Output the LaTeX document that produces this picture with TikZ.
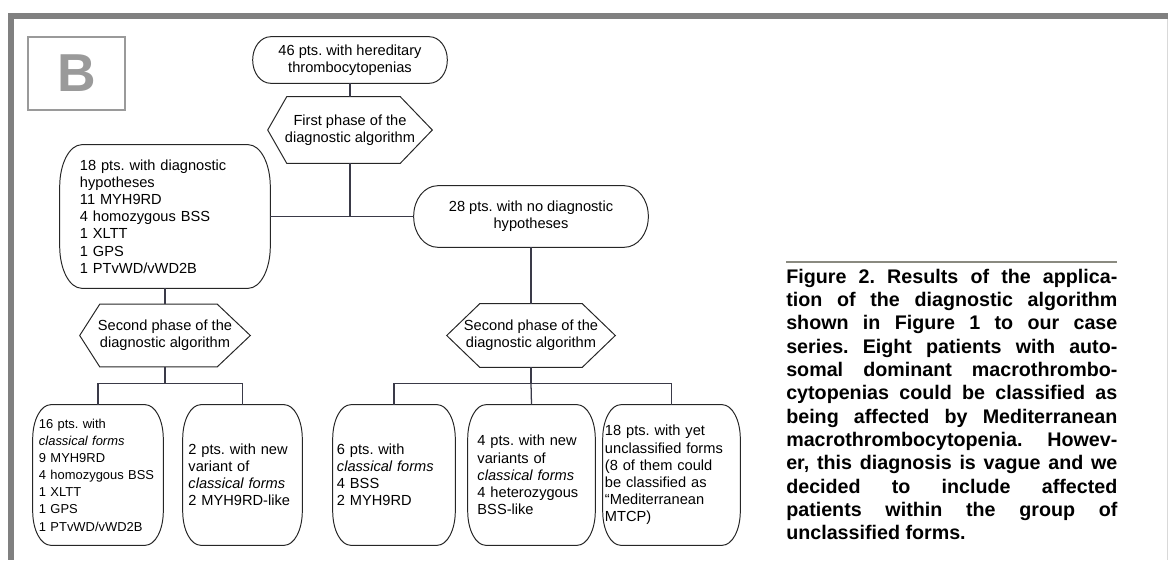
\documentclass[tikz,border=0pt]{standalone}
\usepackage{fontspec}
\setmainfont{Liberation Sans}
\usetikzlibrary{positioning, calc}
\frenchspacing

\definecolor{framegray}{HTML}{808080}
\definecolor{labelgray}{HTML}{9a9a9a}
\definecolor{linkcolor}{HTML}{3a3a48}
\definecolor{rulecolor}{HTML}{8a8a80}

% outline with elliptic corners round a named node: node, corner x, corner y
\newcommand{\roundline}[3]{%
  \draw[outline] ($(#1.north west)+(#2,0)$) -- ($(#1.north east)+(-#2,0)$)
    .. controls ($(#1.north east)+(-0.448*#2,0)$) and ($(#1.north east)+(0,-0.448*#3)$)
    .. ($(#1.north east)+(0,-#3)$)
    -- ($(#1.south east)+(0,#3)$)
    .. controls ($(#1.south east)+(0,0.448*#3)$) and ($(#1.south east)+(-0.448*#2,0)$)
    .. ($(#1.south east)+(-#2,0)$)
    -- ($(#1.south west)+(#2,0)$)
    .. controls ($(#1.south west)+(0.448*#2,0)$) and ($(#1.south west)+(0,0.448*#3)$)
    .. ($(#1.south west)+(0,#3)$)
    -- ($(#1.north west)+(0,-#3)$)
    .. controls ($(#1.north west)+(0,-0.448*#3)$) and ($(#1.north west)+(0.448*#2,0)$)
    .. cycle;}

% hexagon round a named node: node, left tip depth, right tip depth
\newcommand{\hexline}[3]{%
  \draw[outline] ($(#1.north west)+(#2,0)$) -- ($(#1.north east)+(-#3,0)$)
    -- (#1.east) -- ($(#1.south east)+(-#3,0)$)
    -- ($(#1.south west)+(#2,0)$) -- (#1.west) -- cycle;}

\begin{document}
\begin{tikzpicture}[
    x=0.025cm, y=-0.025cm,
    outline/.style={draw=black!85, line width=0.7pt},
    link/.style={draw=linkcolor, line width=0.9pt},
    stage/.style={
        rectangle, inner sep=0pt, align=center,
        font=\fontsize{10.4}{12.2}\selectfont,
    },
    result/.style={stage, align=left, minimum height=3.5cm},
    tagbox/.style={
        rectangle, draw=labelgray, line width=0.9pt,
        minimum width=2.425cm, minimum height=1.825cm,
        font=\fontsize{38}{40}\selectfont\bfseries, text=labelgray,
    },
    caption/.style={
        inner sep=0pt, text width=8.275cm, align=justify, anchor=north west,
        font=\fontsize{14}{16.6}\selectfont\bfseries,
    },
]
\useasboundingbox (0,0) rectangle (1168,560);

% ── Frame ──────────────────────────────────────────────────────────────────
\fill[framegray] (8,13) rectangle (1168,19);
\fill[framegray] (8,13) rectangle (14,560);
\draw[black!15, line width=0.7pt] (1167,19) -- (1167,560);

\node[tagbox] (tag) at (76.5,73.5) {B};

% ── First phase ────────────────────────────────────────────────────────────
\node[stage, minimum width=4.85cm, minimum height=1.15cm] (start) at (350,60)
    {46 pts. with hereditary\\thrombocytopenias};
\node[stage, minimum width=4.1cm, minimum height=1.65cm] (phase1) at (350,130)
    {First phase of the\\diagnostic algorithm};

\node[stage, align=left, text width=4.25cm, minimum width=5.25cm,
      minimum height=3.575cm] (known) at (165,216.5)
    {18 pts. with diagnostic\\hypotheses\\11 MYH9RD\\4 homozygous BSS\\1 XLTT\\1 GPS\\1 PTvWD/vWD2B};
\node[stage, minimum width=5.85cm, minimum height=1.525cm] (unknown) at (531,216.5)
    {28 pts. with no diagnostic\\hypotheses};

% ── Second phase ───────────────────────────────────────────────────────────
\node[stage, minimum width=4.25cm, minimum height=1.55cm] (phase2a) at (165,335.5)
    {Second phase of the\\diagnostic algorithm};
\node[stage, minimum width=4.2cm, minimum height=1.575cm] (phase2b) at (531,335.5)
    {Second phase of the\\diagnostic algorithm};

% ── Results ────────────────────────────────────────────────────────────────
\node[result, text width=2.95cm, minimum width=3.25cm,
      font=\fontsize{9.2}{12.2}\selectfont] (classA) at (98,475)
    {16 pts. with\\\textit{classical forms}\\9 MYH9RD\\4 homozygous BSS\\1 XLTT\\1 GPS\\1 PTvWD/vWD2B};
\node[result, text width=2.7cm, minimum width=2.975cm] (variantA) at (242.5,475)
    {2 pts. with new\\variant of\\\textit{classical forms}\\2 MYH9RD-like};
\node[result, text width=2.85cm, minimum width=3.05cm] (classB) at (394,475)
    {6 pts. with\\\textit{classical forms}\\4 BSS\\2 MYH9RD};
\node[result, text width=2.7cm, minimum width=3.175cm] (variantB) at (531.5,475)
    {4 pts. with new\\variants of\\\textit{classical forms}\\4 heterozygous\\BSS-like};
\node[result, text width=3.325cm, minimum width=3.425cm] (unclass) at (671.5,475)
    {18 pts. with yet\\unclassified forms\\(8 of them could\\be classified as\\``Mediterranean\\MTCP)};

% ── Outlines ───────────────────────────────────────────────────────────────
\roundline{start}{0.45cm}{0.575cm}
\hexline{phase1}{0.475cm}{0.8cm}
\roundline{known}{0.55cm}{1.05cm}
\roundline{unknown}{0.6cm}{0.76cm}
\hexline{phase2a}{0.5cm}{0.825cm}
\hexline{phase2b}{0.825cm}{0.825cm}
\roundline{classA}{0.45cm}{0.85cm}
\roundline{variantA}{0.45cm}{0.85cm}
\roundline{classB}{0.45cm}{0.85cm}
\roundline{variantB}{0.45cm}{0.85cm}
\roundline{unclass}{0.45cm}{0.85cm}

% ── Connectors ─────────────────────────────────────────────────────────────
\draw[link] (start.south) -- (phase1.north);
\draw[link] (known.east) -- (unknown.west);
\draw[link] (phase1.south) -- (phase1.south |- known.east);
\draw[link] (known.south) -- (phase2a.north);
\draw[link] (unknown.south) -- (phase2b.north);

\coordinate (splitA) at ($(phase2a.south)+(0,-0.425cm)$);
\coordinate (splitB) at ($(phase2b.south)+(0,-0.4cm)$);
\draw[link] (phase2a.south) -- (splitA);
\draw[link] (splitA) -| (classA.north);
\draw[link] (splitA) -| (variantA.north);
\draw[link] (phase2b.south) -- (splitB);
\draw[link] (splitB) -| (classB.north);
\draw[link] (splitB) -- (variantB.north);
\draw[link] (splitB) -| (unclass.north);

% ── Caption ────────────────────────────────────────────────────────────────
\draw[rulecolor, line width=1.4pt] (786,262) -- (1117,262);
\node[caption] (legend) at (786,268.5) {\tolerance=10000\noindent
    Figure 2. Results of the applica-\linebreak
    tion of the diagnostic algorithm\linebreak
    shown in Figure 1 to our case\linebreak
    series. Eight patients with auto-\linebreak
    somal dominant macrothrombo-\linebreak
    cytopenias could be classified as\linebreak
    being affected by Mediterranean\linebreak
    macrothrombocytopenia. Howev-\linebreak
    er, this diagnosis is vague and we\linebreak
    decided to include affected\linebreak
    patients within the group of\linebreak
    unclassified forms.};

\end{tikzpicture}
\end{document}
